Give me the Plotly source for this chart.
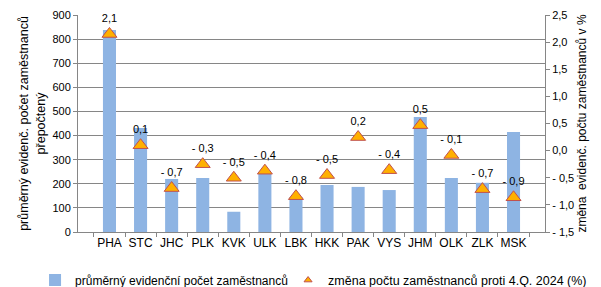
import plotly.graph_objects as go

kraje = ['PHA', 'STC', 'JHC', 'PLK', 'KVK', 'ULK', 'LBK', 'HKK', 'PAK', 'VYS', 'JHM', 'OLK', 'ZLK', 'MSK']
pocet = [838, 431, 220, 224, 84, 241, 145, 195, 187, 174, 477, 224, 204, 415]
zmena = [2.15, 0.1, -0.69, -0.25, -0.5, -0.37, -0.84, -0.45, 0.25, -0.36, 0.47, -0.08, -0.71, -0.86]
zmena_text = ['2,1', '0,1', '- 0,7', '- 0,3', '- 0,5', '- 0,4', '- 0,8', '- 0,5', '0,2', '- 0,4', '0,5', '- 0,1', '- 0,7', '- 0,9']
y2_ticks = [-1.5, -1.0, -0.5, 0.0, 0.5, 1.0, 1.5, 2.0, 2.5]
y2_labels = ['- 1,5', '- 1,0', '- 0,5', '0,0', '0,5', '1,0', '1,5', '2,0', '2,5']

font = dict(family='Liberation Sans, Arial, sans-serif', size=11, color='#000')
big = dict(family='Liberation Sans, Arial, sans-serif', size=12.5, color='#000')

tri = dict(symbol='triangle-up', color='#FFB000', line=dict(color='#C0504D', width=1))

fig = go.Figure()
fig.add_trace(go.Bar(
    x=kraje, y=pocet, name='průměrný evidenční počet zaměstnanců',
    marker=dict(color='#8EB4E3', line=dict(width=0)), legend='legend',
))
fig.add_trace(go.Scatter(
    x=kraje, y=zmena, yaxis='y2', mode='markers+text', cliponaxis=False,
    showlegend=False, text=zmena_text, textposition='top center', textfont=font,
    marker=dict(tri, size=13),
))
# small legend key for the triangles
fig.add_trace(go.Scatter(
    x=[None], y=[None], yaxis='y2', mode='markers', legend='legend2',
    name='změna počtu zaměstnanců proti 4.Q. 2024 (%)',
    marker=dict(tri, size=7),
))

leg = dict(orientation='h', xanchor='left', xref='container', yref='container',
           y=0.103, yanchor='top', font=big, itemwidth=30, bgcolor='rgba(0,0,0,0)')

fig.update_layout(
    width=601, height=287,
    margin=dict(l=70, r=64, t=7, b=63),
    paper_bgcolor='white', plot_bgcolor='white',
    font=font, bargap=0.58, showlegend=True,
    legend=dict(leg, x=0.045, font=dict(big, size=12)),
    legend2=dict(leg, x=0.466),
    xaxis=dict(showline=True, linecolor='#868686', ticks='outside', ticklen=4,
               tickcolor='#868686', tickson='boundaries', showgrid=False, tickangle=0,
               tickfont=dict(font, size=12), automargin=False),
    yaxis=dict(range=[0, 900], dtick=100, showgrid=True, gridcolor='#868686',
               showline=True, linecolor='#868686', ticks='outside', ticklen=4,
               tickcolor='#868686', zeroline=False, automargin=False,
               title=dict(text='průměrný evidenč. počet zaměstnanců<br>přepočtený',
                          font=big, standoff=4)),
    yaxis2=dict(range=[-1.5, 2.5], overlaying='y', side='right', automargin=False,
                tickvals=y2_ticks, ticktext=y2_labels, showgrid=False,
                showline=True, linecolor='#868686', ticks='outside', ticklen=4,
                tickcolor='#868686', zeroline=False,
                title=dict(text='změna  evidenč. počtu zaměstnanců v %', font=dict(font, size=12), standoff=4)),
)

fig.write_html('out.html')
